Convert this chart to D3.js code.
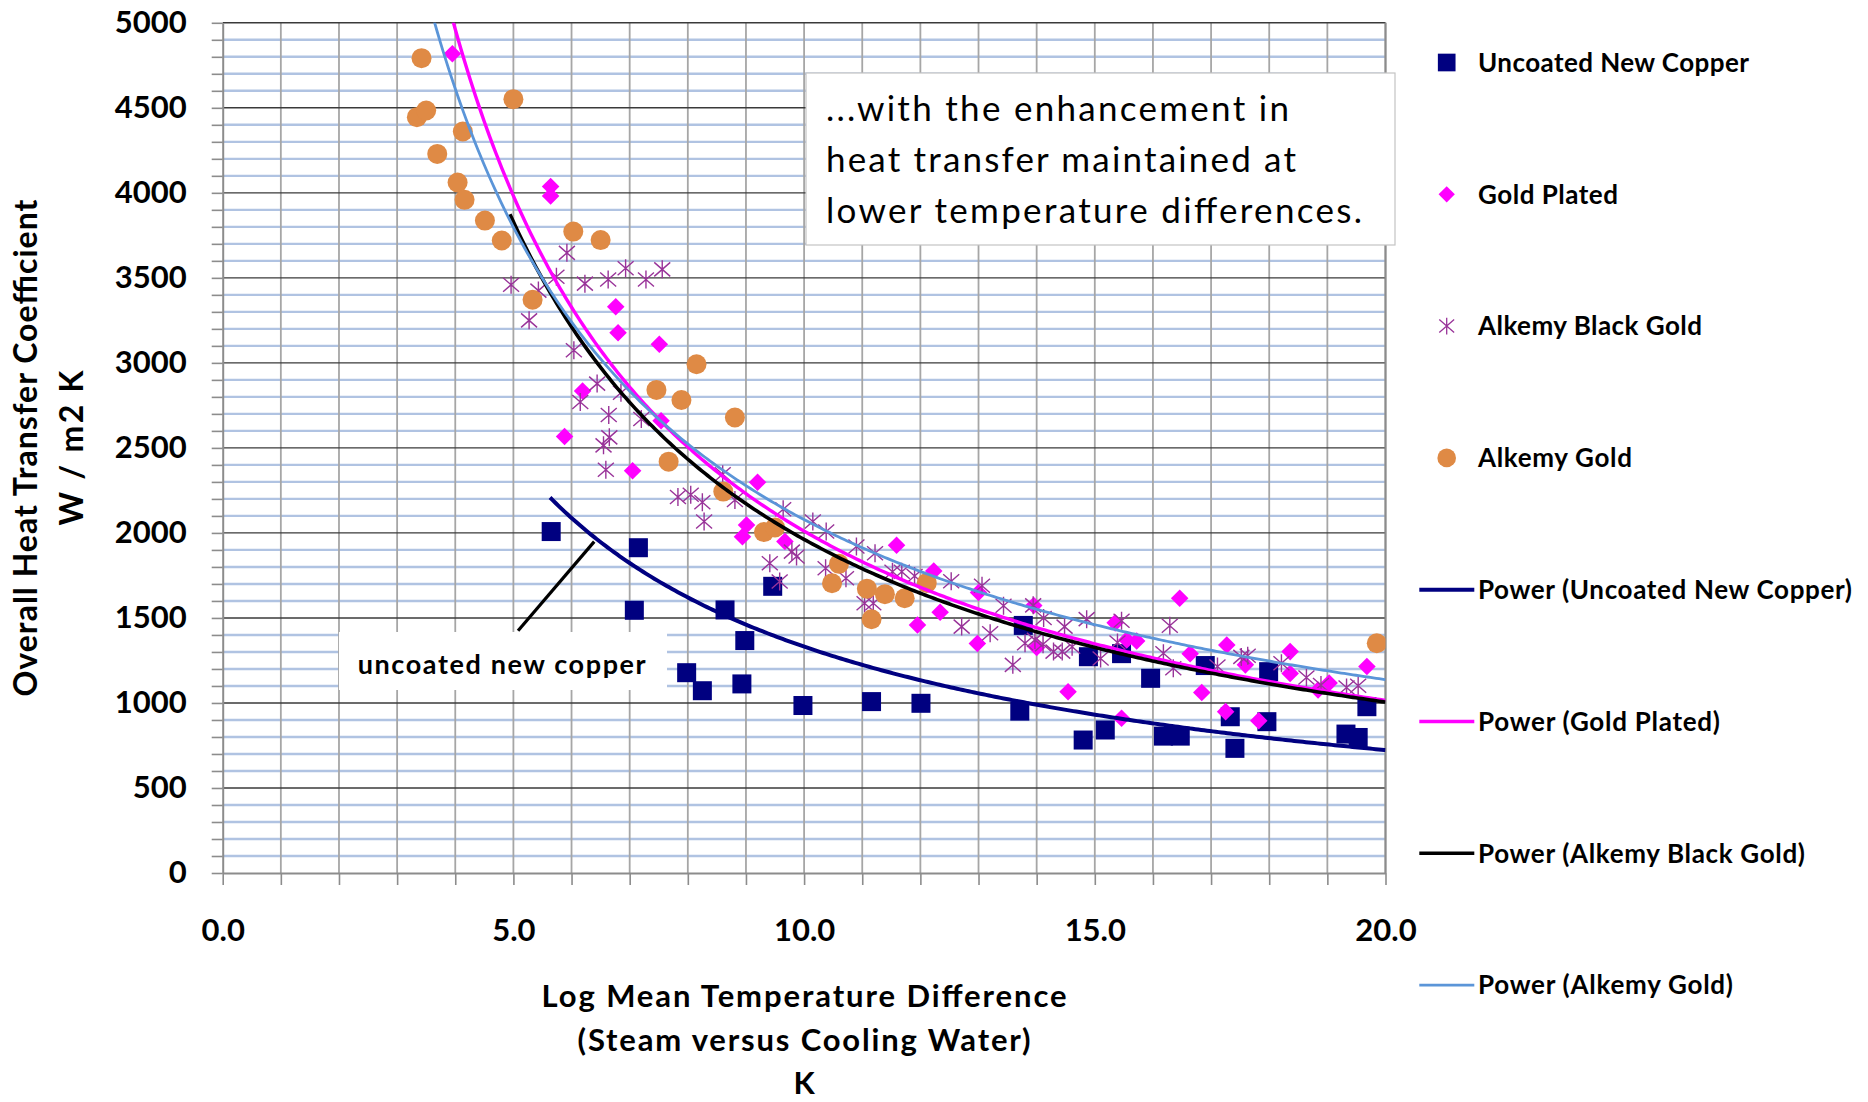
<!DOCTYPE html>
<html>
<head>
<meta charset="utf-8">
<script src="https://cdn.jsdelivr.net/npm/d3@7"></script>
<style>
body { margin: 0; background: #fff; }
svg { display: block; font-family: Lato, 'Open Sans', sans-serif; }
</style>
</head>
<body>
<svg id="chart" width="1868" height="1102"></svg>
<script>
// measured values (x = LMTD in K, y = U in W/m2K)
let uncoatedCopper = [
	[5.65, 2008], [7.15, 1913], [7.08, 1545], [7.98, 1178], [8.25, 1072], [8.64, 1547],
	[8.98, 1367], [8.93, 1112], [9.46, 1686], [9.98, 985], [11.16, 1008], [12.01, 998],
	[13.71, 952], [13.77, 1456], [14.89, 1272], [14.8, 782], [15.18, 841], [15.46, 1290],
	[15.96, 1145], [16.18, 805], [16.47, 805], [16.9, 1220], [17.33, 919], [17.41, 733],
	[17.96, 890], [17.99, 1184], [19.32, 817], [19.53, 797], [19.68, 978]
];

let goldPlated = [
	[3.95, 4818], [5.64, 4037], [5.64, 3982], [5.88, 2567], [6.19, 2835], [6.76, 3330],
	[6.8, 3177], [7.05, 2366], [7.51, 3109], [7.54, 2660], [8.94, 1978], [9.01, 2047],
	[9.2, 2298], [9.67, 1949], [11.59, 1927], [11.95, 1459], [12.23, 1776], [12.34, 1534],
	[12.98, 1350], [13.0, 1650], [13.95, 1573], [14.0, 1326], [14.54, 1066], [15.35, 1471],
	[15.46, 910], [15.55, 1371], [15.72, 1364], [16.46, 1616], [16.64, 1290], [16.84, 1061],
	[17.25, 949], [17.27, 1341], [17.59, 1224], [17.82, 896], [18.36, 1302], [18.36, 1173],
	[18.84, 1076], [19.03, 1118], [19.68, 1214]
];

let alkemyBlackGold = [
	[4.96, 3459], [5.27, 3250], [5.43, 3425], [5.74, 3506], [5.92, 3647], [6.04, 3074],
	[6.15, 2770], [6.23, 3466], [6.44, 2878], [6.55, 2515], [6.59, 2371], [6.63, 3490],
	[6.64, 2694], [6.65, 2562], [6.85, 2824], [6.93, 3557], [7.2, 2670], [7.28, 3490],
	[7.56, 3550], [7.83, 2211], [8.05, 2225], [8.25, 2180], [8.28, 2067], [8.6, 2345],
	[8.81, 2194], [9.41, 1822], [9.58, 1714], [9.64, 2139], [9.79, 1890], [9.87, 1861],
	[10.15, 2067], [10.38, 2008], [10.37, 1792], [10.72, 1733], [10.9, 1920], [11.04, 1586],
	[11.19, 1586], [11.22, 1881], [11.52, 1772], [11.68, 1772], [11.9, 1747], [12.53, 1716],
	[12.71, 1449], [13.06, 1689], [13.2, 1410], [13.43, 1572], [13.59, 1224], [13.8, 1351],
	[13.94, 1574], [13.97, 1371], [14.11, 1345], [14.12, 1500], [14.29, 1302], [14.44, 1302],
	[14.48, 1449], [14.61, 1331], [14.86, 1493], [15.1, 1261], [15.39, 1356], [15.46, 1483],
	[16.18, 1292], [16.29, 1454], [16.35, 1204], [17.11, 1214], [17.52, 1271], [17.63, 1278],
	[18.21, 1233], [18.64, 1150], [18.89, 1106], [19.33, 1091], [19.53, 1101]
];

let alkemyGold = [
	[3.34, 4445], [3.42, 4792], [3.5, 4484], [3.69, 4229], [4.04, 4061], [4.13, 4361],
	[4.16, 3959], [4.51, 3837], [4.8, 3720], [5.0, 4551], [5.33, 3371], [6.03, 3772],
	[6.5, 3722], [7.46, 2841], [7.67, 2419], [7.89, 2782], [8.15, 2992], [8.61, 2243],
	[8.81, 2679], [9.31, 2005], [9.5, 2032], [10.48, 1704], [10.6, 1818], [11.08, 1672],
	[11.16, 1492], [11.39, 1640], [11.73, 1616], [12.11, 1706], [19.85, 1351]
];

let seriesNames = ['Uncoated New Copper', 'Gold Plated', 'Alkemy Black Gold', 'Alkemy Gold'];
let seriesData = [uncoatedCopper, goldPlated, alkemyBlackGold, alkemyGold];
let seriesColor = ['#000080', '#ff00ff', '#993399', '#df8a45'];

// power trendlines y = a * x^b
let fitA = [10122, 19468, 18100, 15406];
let fitB = [-0.881, -0.986, -0.965, -0.870];
let fitStart = [5.63, 3.95, 4.94, 3.34];
let fitEnd = [20, 20, 20, 20];
let fitColor = ['#000080', '#ff00ff', '#000000', '#5b95d8'];
let fitWidth = [4, 3.4, 3.6, 2.8];

let xTicks = d3.range(0, 21, 1);
let yTicks = d3.range(0, 5001, 100);

let svg = d3.select('#chart');

let marginLeft = 222.7;
let marginTop = 22.8;
let width = 1385.5 - marginLeft;
let height = 873 - marginTop;

let chart = svg.append('g')
	.attr('transform', 'translate(' + marginLeft + ', ' + marginTop + ')');

let x = d3.scaleLinear().domain([0, 20]).range([0, width]);
let y = d3.scaleLinear().domain([0, 5000]).range([height, 0]);

// gridlines
chart.append('g')
	.selectAll('line')
	.data(yTicks.filter(d => d % 500 !== 0))
	.enter()
	.append('line')
	.attr('x1', 0).attr('x2', width)
	.attr('y1', d => y(d)).attr('y2', d => y(d))
	.attr('stroke', '#b0c3e2')
	.attr('stroke-width', 2.4);

chart.append('g')
	.selectAll('line')
	.data(xTicks.filter(d => d > 0))
	.enter()
	.append('line')
	.attr('x1', d => x(d)).attr('x2', d => x(d))
	.attr('y1', 0).attr('y2', height)
	.attr('stroke', '#a6a6a6')
	.attr('stroke-width', 1.8);

chart.append('g')
	.selectAll('line')
	.data(yTicks.filter(d => d % 500 === 0 && d > 0))
	.enter()
	.append('line')
	.attr('x1', 0).attr('x2', width)
	.attr('y1', d => y(d)).attr('y2', d => y(d))
	.attr('stroke', '#3a3a3a')
	.attr('stroke-width', 1.4);

// axes
let yAxis = d3.axisLeft(y)
	.tickValues(yTicks)
	.tickSize(11)
	.tickSizeOuter(0)
	.tickPadding(25)
	.tickFormat(d => d % 500 === 0 ? d : '');

let xAxis = d3.axisBottom(x)
	.tickValues(xTicks)
	.tickSize(12)
	.tickSizeOuter(0)
	.tickPadding(34)
	.tickFormat(d => d % 5 === 0 ? d.toFixed(1) : '');

chart.append('g')
	.attr('transform', 'translate(0, ' + height + ')')
	.call(xAxis);

chart.append('g')
	.call(yAxis);

chart.selectAll('.domain').attr('stroke', '#8c8c8c').attr('stroke-width', 2);
chart.selectAll('.tick line').attr('stroke', '#8c8c8c').attr('stroke-width', 1.6);
chart.selectAll('.tick text')
	.attr('fill', '#000')
	.style('font-size', '31px')
	.style('font-weight', 'bold')
	.style('font-family', 'Lato, sans-serif');

chart.append('line')
	.attr('x1', width).attr('x2', width)
	.attr('y1', 0).attr('y2', height)
	.attr('stroke', '#8c8c8c')
	.attr('stroke-width', 2);

// annotation boxes (cover the grid only)
let noteLines = ['...with the enhancement  in', 'heat transfer maintained at', 'lower temperature  differences.'];
let noteWidths = [463, 470, 536];

svg.append('rect')
	.attr('x', 806).attr('y', 73)
	.attr('width', 589).attr('height', 172)
	.attr('fill', '#fff')
	.attr('stroke', '#c4c4c4')
	.attr('stroke-width', 1.2);

svg.append('g')
	.selectAll('text')
	.data(noteLines)
	.enter()
	.append('text')
	.attr('x', 826)
	.attr('y', (d, i) => 120.5 + i * 51)
	.attr('textLength', (d, i) => noteWidths[i])
	.attr('lengthAdjust', 'spacing')
	.style('font-size', '35px')
	.style('fill', '#000')
	.text(d => d);

svg.append('rect')
	.attr('x', 339).attr('y', 632)
	.attr('width', 328).attr('height', 58)
	.attr('fill', '#fff');

svg.append('text')
	.attr('x', 357.7)
	.attr('y', 674)
	.attr('textLength', 288)
	.attr('lengthAdjust', 'spacing')
	.style('font-size', '27px')
	.style('font-weight', 'bold')
	.text('uncoated new copper');

let leader = [[5.08, 1425], [6.39, 1949]];
chart.append('line')
	.attr('x1', x(leader[0][0])).attr('y1', y(leader[0][1]))
	.attr('x2', x(leader[1][0])).attr('y2', y(leader[1][1]))
	.attr('stroke', '#000')
	.attr('stroke-width', 3.2);

// markers
svg.append('clipPath').attr('id', 'plotclip')
	.append('rect').attr('width', width).attr('height', height);

let plot = chart.append('g').attr('clip-path', 'url(#plotclip)');

let starPath = 'M0,-9V9M-8,-7L8,7M-8,7L8,-7';

function drawMarker(sel, idx) {
	if (idx === 0) {
		sel.append('rect')
			.attr('x', -9.5).attr('y', -9.5)
			.attr('width', 19).attr('height', 19)
			.attr('fill', seriesColor[0]);
	} else if (idx === 1) {
		sel.append('rect')
			.attr('x', -6.2).attr('y', -6.2)
			.attr('width', 12.4).attr('height', 12.4)
			.attr('transform', 'rotate(45)')
			.attr('fill', seriesColor[1]);
	} else if (idx === 2) {
		sel.append('path')
			.attr('d', starPath)
			.attr('fill', 'none')
			.attr('stroke', seriesColor[2])
			.attr('stroke-width', 1.4);
	} else {
		sel.append('circle')
			.attr('r', 10)
			.attr('fill', seriesColor[3]);
	}
}

seriesData.map(function(data, idx) {
	plot.append('g')
		.selectAll('g')
		.data(data)
		.enter()
		.append('g')
		.attr('transform', d => 'translate(' + x(d[0]) + ', ' + y(d[1]) + ')')
		.each(function() { drawMarker(d3.select(this), idx); });
});

// trendlines
fitA.map(function(a, idx) {
	let xs = d3.range(fitStart[idx], fitEnd[idx], 0.05).concat([fitEnd[idx]]);
	let fitLine = d3.line()
		.x(d => x(d))
		.y(d => y(a * Math.pow(d, fitB[idx])));
	plot.append('path')
		.datum(xs)
		.attr('fill', 'none')
		.attr('stroke', fitColor[idx])
		.attr('stroke-width', fitWidth[idx])
		.attr('d', fitLine);
});

// axis titles
let yTitle = ['Overall Heat Transfer Coefficient', 'W / m2  K'];
let yTitleX = [36.5, 83];
let yTitleLen = [497, 155];
yTitle.map(function(t, i) {
	svg.append('text')
		.attr('transform', 'translate(' + yTitleX[i] + ', 448) rotate(-90)')
		.attr('text-anchor', 'middle')
		.attr('textLength', yTitleLen[i])
		.attr('lengthAdjust', 'spacing')
		.style('font-size', '32px')
		.style('font-weight', 'bold')
		.text(t);
});

let xTitle = ['Log Mean Temperature Difference', '(Steam versus Cooling Water)', 'K'];
let xTitleLen = [525, 453, null];
xTitle.map(function(t, i) {
	let el = svg.append('text')
		.attr('x', marginLeft + width / 2)
		.attr('y', 1007 + i * 43.5)
		.attr('text-anchor', 'middle')
		.style('font-size', '31px')
		.style('font-weight', 'bold')
		.text(t);
	if (xTitleLen[i]) {
		el.attr('textLength', xTitleLen[i]).attr('lengthAdjust', 'spacing');
	}
});

// legend
let legendLabels = seriesNames.concat(seriesNames.map(n => 'Power (' + n + ')'));
let legendWidths = [271, 140, 224, 154, 374, 242, 327, 255];

let legend = svg.append('g');
legendLabels.map(function(label, i) {
	let rowY = 62.5 + i * 131.8;
	let row = legend.append('g').attr('transform', 'translate(0, ' + rowY + ')');
	if (i < 4) {
		let m = row.append('g').attr('transform', 'translate(1446.7, 0) scale(0.93)');
		drawMarker(m, i);
	} else {
		row.append('line')
			.attr('x1', 1419.3).attr('x2', 1474.3)
			.attr('y1', 0).attr('y2', 0)
			.attr('stroke', fitColor[i - 4])
			.attr('stroke-width', fitWidth[i - 4]);
	}
	row.append('text')
		.attr('x', 1478)
		.attr('y', 9.3)
		.attr('textLength', legendWidths[i])
		.attr('lengthAdjust', 'spacing')
		.style('font-size', '26px')
		.style('font-weight', 'bold')
		.text(label);
});
</script>
</body>
</html>
